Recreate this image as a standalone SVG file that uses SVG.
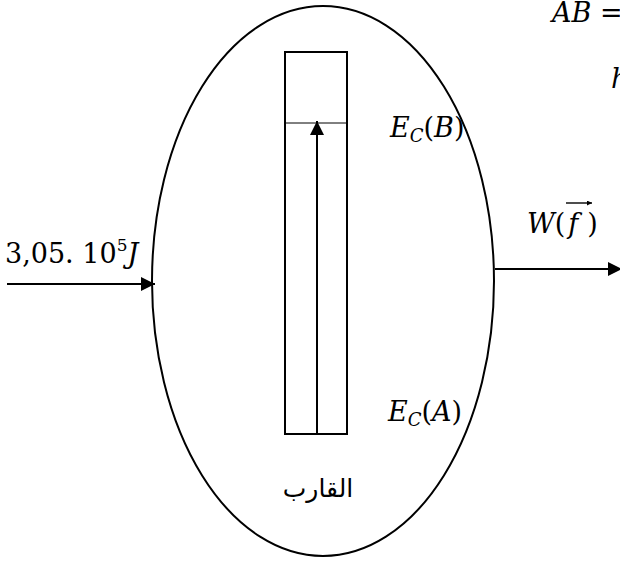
<svg xmlns="http://www.w3.org/2000/svg" width="620" height="563" viewBox="0 0 620 563">
<style>
.m{font-family:"DejaVu Serif","Liberation Serif",serif;font-style:italic;fill:#000}
.n{font-family:"DejaVu Serif","Liberation Serif",serif;fill:#000}
.ln{stroke:#000;fill:none;stroke-width:2}
</style>
<defs>
<marker id="ah" viewBox="0 0 10 10" refX="10" refY="5" markerWidth="5" markerHeight="5" orient="auto" markerUnits="userSpaceOnUse">
<path d="M0,0 L10,5 L0,10 Z" fill="#000"/>
</marker>
<marker id="ah2" viewBox="0 0 10 10" refX="10" refY="5" markerWidth="14" markerHeight="14" orient="auto" markerUnits="userSpaceOnUse">
<path d="M0,0 L10,5 L0,10 Z" fill="#000"/>
</marker>
</defs>
<g id="system">
<ellipse cx="323" cy="281" rx="171" ry="275" class="ln"/>
</g>
<g id="boat">
<rect x="285" y="52" width="62" height="382" class="ln"/>
<line x1="286" y1="123" x2="346" y2="123" stroke="#000" stroke-width="1"/>
<text x="318" y="497" font-family="'Liberation Sans','DejaVu Sans',sans-serif" font-size="25" text-anchor="middle" direction="rtl">القارب</text>
</g>
<g id="connectors">
<line x1="317" y1="434" x2="317" y2="121" stroke="#000" stroke-width="2" marker-end="url(#ah2)"/>
<line x1="7" y1="284" x2="155" y2="284" stroke="#000" stroke-width="2" marker-end="url(#ah2)"/>
<line x1="495" y1="269" x2="622" y2="269" stroke="#000" stroke-width="2" marker-end="url(#ah2)"/>
</g>
<g id="labels">
<text class="m" x="552" y="22" font-size="27">AB =</text>
<text class="m" x="611" y="88" font-size="27">h</text>
<text class="m" x="390" y="137" font-size="27">E<tspan font-size="18" dy="5">C</tspan><tspan dy="-5" font-style="normal">(</tspan>B<tspan font-style="normal">)</tspan></text>
<text class="m" x="388" y="421" font-size="27">E<tspan font-size="18" dy="5">C</tspan><tspan dy="-5" font-style="normal">(</tspan>A<tspan font-style="normal">)</tspan></text>
<text class="m" x="527" y="233" font-size="27">W<tspan font-style="normal">(</tspan><tspan dx="3">f</tspan><tspan font-style="normal" dx="9">)</tspan></text>
<line x1="566" y1="203" x2="592" y2="203" stroke="#000" stroke-width="1.4" marker-end="url(#ah)"/>
<text class="n" x="5" y="263" font-size="27">3,05. 10<tspan font-size="17" dy="-12">5</tspan><tspan class="m" dy="12">J</tspan></text>
</g>
</svg>
